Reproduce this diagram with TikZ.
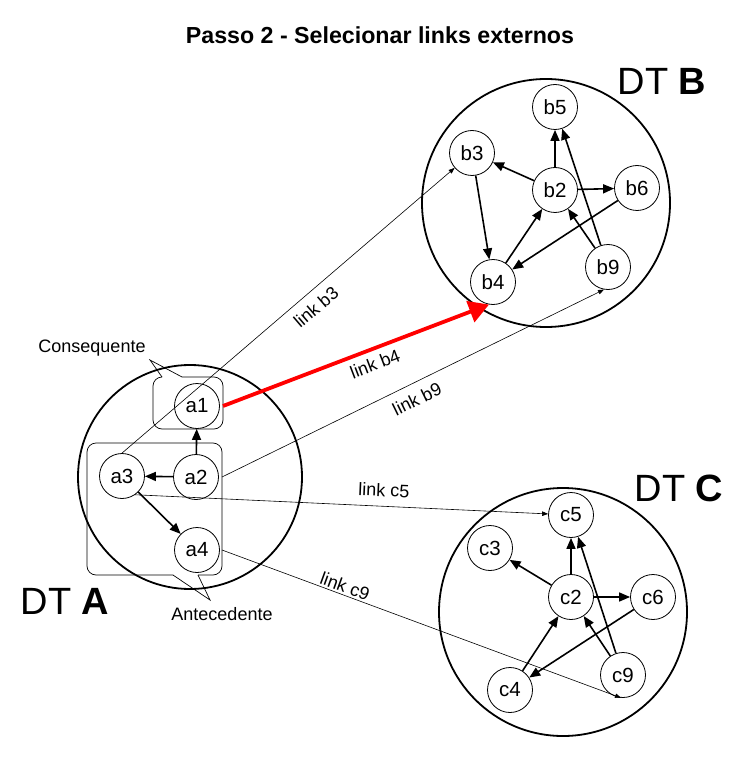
\documentclass[tikz,border=0pt]{standalone}
\usepackage{fontspec}
\setmainfont{Liberation Sans}
\usetikzlibrary{arrows.meta}
\begin{document}
\begin{tikzpicture}[x=1pt,y=-1pt,
  nd/.style={circle,draw,line width=0.8pt,fill=white,minimum size=45pt,inner sep=0pt,font=\fontsize{20.5}{20.5}\selectfont},
  dtc/.style={circle,draw,line width=1.8pt,inner sep=0pt},
  iarr/.style={line width=1.6pt,-{Triangle[length=11pt,width=9pt]}},
  lnk/.style={line width=0.6pt,-{Triangle[length=6pt,width=4.5pt]}},
  lbl/.style={font=\fontsize{18}{18}\selectfont,inner sep=0pt},
  big/.style={font=\fontsize{38}{38}\selectfont,inner sep=0pt},
  box/.style={line width=0.7pt}]
\useasboundingbox (0,0) rectangle (745,759);

% title
\node[font=\fontsize{23.2}{23.2}\selectfont\bfseries] (title) at (380,35) {Passo 2 - Selecionar links externos};

% domain circles
\node[dtc,minimum size=224pt] (A) at (190,477) {};
\node[dtc,minimum size=248pt] (B) at (546,203) {};
\node[dtc,minimum size=248pt] (C) at (563,612) {};
\node[big] (dtA) at (65,601) {DT \textbf{A}};
\node[big] (dtB) at (662,81) {DT \textbf{B}};
\node[big] (dtC) at (679,488) {DT \textbf{C}};

% callout boxes
\coordinate (consR) at (223,400);
\coordinate (anteR) at (222,500);
\draw[box,rounded corners=9pt] (182,377) -- (223,377) -- (223,429) -- (153,429) -- (153,377) -- (162,377);
\coordinate (consTip) at (150,360);
\draw[box] (162,377) -- (consTip) -- (182,377);
\draw[box,rounded corners=9pt] (173,575) -- (87,575) -- (87,443) -- (222,443) -- (222,575) -- (198,575);
\coordinate (anteTip) at (210,600);
\draw[box] (173,575) -- (anteTip) -- (198,575);
\node[lbl] (cons) at (92,348) {Consequente};
\node[lbl] (ante) at (222,614) {Antecedente};

% nodes A
\node[nd] (a1) at (197,406) {a1};
\node[nd] (a2) at (196,477) {a2};
\node[nd] (a3) at (122,476) {a3};
\node[nd] (a4) at (197,550) {a4};
% nodes B
\node[nd] (b5) at (555,107) {b5};
\node[nd] (b3) at (472,153) {b3};
\node[nd] (b2) at (555,190) {b2};
\node[nd] (b6) at (637,188) {b6};
\node[nd] (b9) at (608,267) {b9};
\node[nd] (b4) at (493,282) {b4};
% nodes C
\node[nd] (c5) at (571,515) {c5};
\node[nd] (c3) at (490,548) {c3};
\node[nd] (c2) at (571,597) {c2};
\node[nd] (c6) at (653,597) {c6};
\node[nd] (c9) at (623,675) {c9};
\node[nd] (c4) at (510,690) {c4};

% internal edges
\draw[iarr] (a2) -- (a1);
\draw[iarr] (a2) -- (a3);
\draw[iarr] (a3) -- (a4);

\draw[iarr] (b2) -- (b5);
\draw[iarr] (b2) -- (b3);
\draw[iarr] (b2) -- (b6);
\draw[iarr] (b3) -- (b4);
\draw[iarr] (b4) -- (b2);
\draw[iarr] (b6) -- (b4);
\draw[iarr] (b9) -- (b2);
\draw[iarr] (b9) -- (b5);

\draw[iarr] (c2) -- (c5);
\draw[iarr] (c2) -- (c3);
\draw[iarr] (c2) -- (c6);
\draw[iarr] (c4) -- (c2);
\draw[iarr] (c6) -- (c4);
\draw[iarr] (c9) -- (c2);
\draw[iarr] (c9) -- (c5);

% external links
\draw[lnk] (a3.north) -- (b3);
\node[lbl,rotate=40.5] (lb3) at (316,307) {link b3};
\draw[red,line width=3.8pt,-{Triangle[length=20pt,width=22pt]}] (a1 -| consR) -- (b4.-100);
\node[lbl,rotate=21] (lb4) at (375,364) {link b4};
\draw[lnk] (a2 -| anteR) -- (b9.-100);
\node[lbl,rotate=26] (lb9) at (417,399) {link b9};
\draw[lnk] (a3.-55) -- (c5);
\node[lbl,rotate=-2.5] (lc5) at (384,490) {link c5};
\draw[lnk] (a4 -| anteR) -- (c9.-95);
\node[lbl,rotate=-20] (lc9) at (345,586) {link c9};
\end{tikzpicture}
\end{document}
